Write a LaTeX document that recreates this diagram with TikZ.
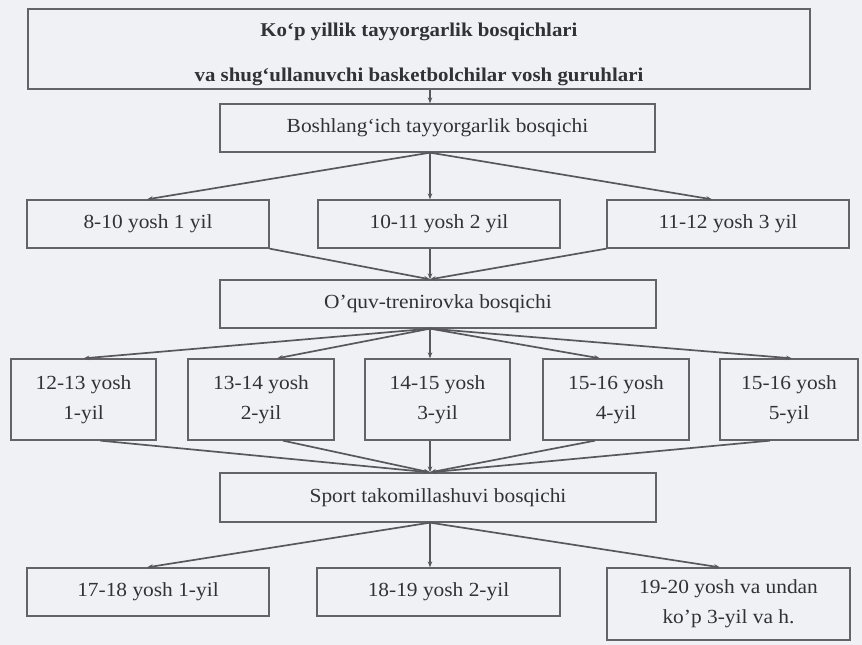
\documentclass[tikz,border=0pt]{standalone}
\usepackage{fontspec}
\setmainfont{Liberation Serif}[FakeStretch=1.07]
\usetikzlibrary{arrows.meta}
\definecolor{bg}{RGB}{239,241,245}
\definecolor{boxline}{RGB}{100,100,104}
\definecolor{conn}{RGB}{88,88,92}
\definecolor{txt}{RGB}{50,50,54}
\begin{document}
\begin{tikzpicture}[x=1pt,y=-1pt,
  box/.style={draw=boxline, line width=1.3pt, rectangle, inner sep=0pt, align=center,
    text=txt, font=\fontsize{20}{30}\selectfont},
  boldtext/.style={inner sep=0pt, align=center, text=txt, font=\bfseries\fontsize{19.5}{45}\selectfont},
  conn/.style={draw=conn, line width=1.7pt, -{Stealth[length=6pt,width=4.5pt]}}]
\fill[bg] (0,0) rectangle (862,645);
\useasboundingbox (0,0) rectangle (862,645);
% nodes
\node[box, minimum width=782, minimum height=80] (top) at (419,49) {};
\node[boldtext] (toptext) at ([yshift=-5]top.center)
  {Ko‘p yillik tayyorgarlik bosqichlari\\va shug‘ullanuvchi basketbolchilar vosh guruhlari};
\node[box, minimum width=435, minimum height=48] (bosh) at (437.5,128) {Boshlang‘ich tayyorgarlik bosqichi};
\node[box, minimum width=242, minimum height=48] (a1) at (148,224) {8-10 yosh 1 yil};
\node[box, minimum width=242, minimum height=48] (a2) at (439,224) {10-11 yosh 2 yil};
\node[box, minimum width=242, minimum height=48] (a3) at (728,224) {11-12 yosh 3 yil};
\node[box, minimum width=436, minimum height=48] (oquv) at (438,304) {O’quv-trenirovka bosqichi};
\node[box, minimum width=145, minimum height=81] (b1) at (83.5,399.5) {12-13 yosh\\1-yil};
\node[box, minimum width=146, minimum height=81] (b2) at (261,399.5) {13-14 yosh\\2-yil};
\node[box, minimum width=145, minimum height=81] (b3) at (437.5,399.5) {14-15 yosh\\3-yil};
\node[box, minimum width=146, minimum height=81] (b4) at (616,399.5) {15-16 yosh\\4-yil};
\node[box, minimum width=138, minimum height=81] (b5) at (789,399.5) {15-16 yosh\\5-yil};
\node[box, minimum width=436, minimum height=49] (sport) at (438,497.5) {Sport takomillashuvi bosqichi};
\node[box, minimum width=242, minimum height=48] (c1) at (148,592) {17-18 yosh 1-yil};
\node[box, minimum width=243, minimum height=48] (c2) at (438.5,592) {18-19 yosh 2-yil};
\node[box, minimum width=243, minimum height=72] (c3) at (728.5,604) {19-20 yosh va undan\\ko’p 3-yil va h.};
% connectors
\draw[conn] ([xshift=11]top.south) -- ([xshift=-7.5]bosh.north);
\draw[conn] ([xshift=-7.5]bosh.south) -- ([xshift=-1]a1.north);
\draw[conn] ([xshift=-7.5]bosh.south) -- ([xshift=-9]a2.north);
\draw[conn] ([xshift=-7.5]bosh.south) -- ([xshift=-16]a3.north);
\draw[conn] (a1.south east) -- ([xshift=-8]oquv.north);
\draw[conn] ([xshift=-9]a2.south) -- ([xshift=-8]oquv.north);
\draw[conn] (a3.south west) -- ([xshift=-8]oquv.north);
\draw[conn] ([xshift=-8]oquv.south) -- (b1.north);
\draw[conn] ([xshift=-8]oquv.south) -- ([xshift=16]b2.north);
\draw[conn] ([xshift=-8]oquv.south) -- ([xshift=-7.5]b3.north);
\draw[conn] ([xshift=-8]oquv.south) -- ([xshift=-16]b4.north);
\draw[conn] ([xshift=-8]oquv.south) -- ([xshift=3]b5.north);
\draw[conn] ([xshift=17]b1.south) -- ([xshift=-8]sport.north);
\draw[conn] ([xshift=22]b2.south) -- ([xshift=-8]sport.north);
\draw[conn] ([xshift=-7.5]b3.south) -- ([xshift=-8]sport.north);
\draw[conn] ([xshift=-21]b4.south) -- ([xshift=-8]sport.north);
\draw[conn] ([xshift=-19]b5.south) -- ([xshift=-8]sport.north);
\draw[conn] ([xshift=-8]sport.south) -- ([xshift=-1]c1.north);
\draw[conn] ([xshift=-8]sport.south) -- ([xshift=-8.5]c2.north);
\draw[conn] ([xshift=-8]sport.south) -- ([xshift=-8.5]c3.north);
\end{tikzpicture}
\end{document}
